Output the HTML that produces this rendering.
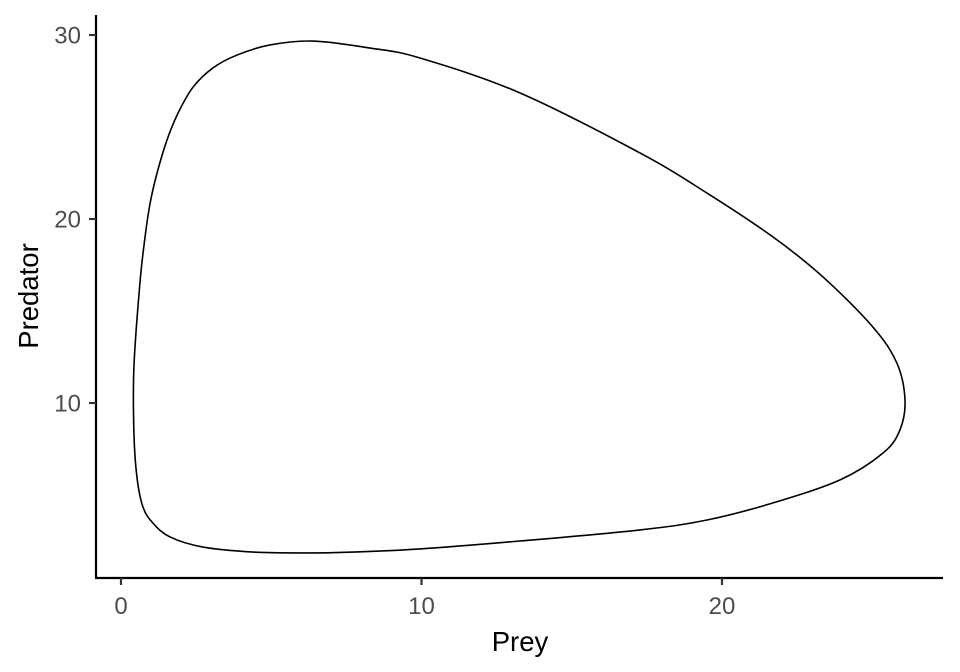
<!DOCTYPE html>
<html><head><meta charset="utf-8"><style>
html,body{margin:0;padding:0;background:#fff;}
svg{display:block;font-family:"Liberation Sans",sans-serif;}
</style></head><body>
<svg id="chart" width="960" height="672">
<g id="axes"></g>
<path id="curve" fill="none" stroke="#000" stroke-width="1.6"></path>
<text x="520" y="651" text-anchor="middle" style="font-size:27.5px" fill="#000">Prey</text>
<text transform="translate(38,296) rotate(-90)" text-anchor="middle" style="font-size:27.5px" fill="#000">Predator</text>
</svg>
<script>
const preyVals=[0.43,0.53,0.73,1.06,1.63,2.73,4.39,6.06,7.72,9.95,13.28,17.27,19.50,21.70,23.93,25.36,25.92,26.09,25.82,25.02,23.36,21.70,19.50,17.27,13.28,9.95,8.29,6.39,4.96,3.86,3.06,2.40,1.90,1.53,1.20,0.97,0.80,0.63,0.43];
const predVals=[8.37,5.98,4.35,3.48,2.72,2.17,1.90,1.85,1.90,2.07,2.50,3.10,3.64,4.57,5.82,7.28,8.53,10.16,12.17,14.13,16.85,19.02,21.41,23.59,26.85,28.75,29.29,29.67,29.46,28.91,28.21,27.17,25.76,24.29,22.50,20.87,19.02,16.52,11.96];
const xTicks=[0,10,20];
const yTicks=[10,20,30];
const X=v=>121+v*30.05;
const Y=v=>403-(v-10)*18.4;
const ns="http://www.w3.org/2000/svg";
const ax=document.getElementById('axes');
function mk(t,a){const e=document.createElementNS(ns,t);for(const k in a)e.setAttribute(k,a[k]);ax.appendChild(e);return e;}
let l=mk('line',{x1:96,y1:15,x2:96,y2:578,stroke:'#000','stroke-width':2.2});


l=mk('line',{x1:95,y1:578,x2:943,y2:578,stroke:'#000','stroke-width':2.2});


xTicks.forEach(v=>{
 const t=mk('line',{x1:X(v),y1:578,x2:X(v),y2:585,stroke:'#333','stroke-width':2.2});
 
 
 const tx=mk('text',{x:X(v),y:614,'text-anchor':'middle',style:'font-size:24px',fill:'#4d4d4d'});
 tx.textContent=v;
 
 
});
yTicks.forEach(v=>{
 const t=mk('line',{x1:89,y1:Y(v),x2:96,y2:Y(v),stroke:'#333','stroke-width':2.2});
 
 
 const tx=mk('text',{x:81,y:Y(v)+8.5,'text-anchor':'end',style:'font-size:24px',fill:'#4d4d4d'});
 tx.textContent=v;
 
 
});
const P=preyVals.map((p,i)=>[X(p),Y(predVals[i])]);
const n=P.length;let d='M'+P[0][0]+','+P[0][1];
for(let i=0;i<n;i++){
 const p0=P[(i-1+n)%n],p1=P[i],p2=P[(i+1)%n],p3=P[(i+2)%n];
 const c1=[p1[0]+(p2[0]-p0[0])/6,p1[1]+(p2[1]-p0[1])/6];
 const c2=[p2[0]-(p3[0]-p1[0])/6,p2[1]-(p3[1]-p1[1])/6];
 d+=' C'+c1+' '+c2+' '+p2;
}
document.getElementById('curve').setAttribute('d',d+'Z');
</script>
</body></html>
